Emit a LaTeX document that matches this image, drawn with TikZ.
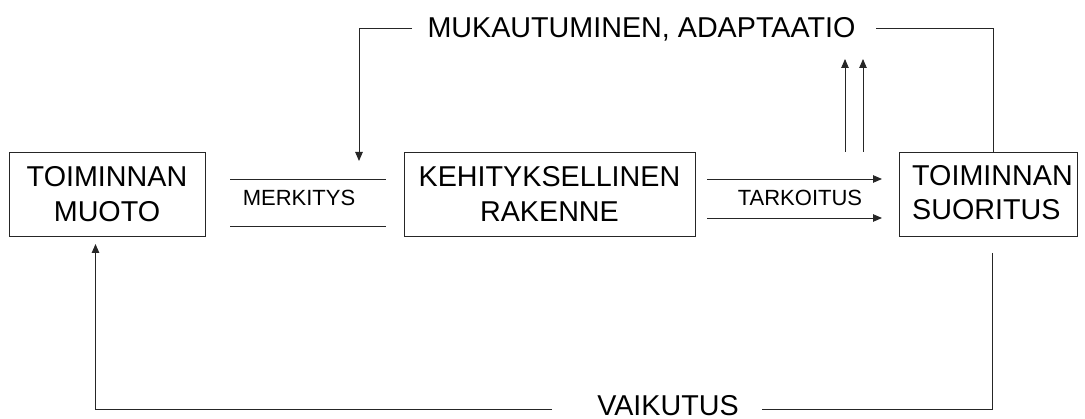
\documentclass[tikz,border=0pt]{standalone}
\usepackage{fontspec}
\setmainfont{Liberation Sans}
\usetikzlibrary{arrows.meta}
\begin{document}
\begin{tikzpicture}[x=1pt,y=-1pt,
  bigfont/.style={font=\fontsize{28.7}{34.3}\selectfont},
  smallfont/.style={font=\fontsize{22}{26}\selectfont},
  box/.style={draw=black!85, line width=0.9pt, minimum height=84pt, inner sep=0pt, align=center, bigfont},
  conn/.style={draw=black!85, line width=0.9pt},
  arr/.style={conn, -{Triangle[length=9pt,width=7.5pt]}}]
\useasboundingbox (0,0) rectangle (1085,419);

% boxes
\node[box, minimum width=196pt] (b1) at (107,194) {TOIMINNAN\\MUOTO};
\node[box, minimum width=291pt] (b2) at (549.5,194) {KEHITYKSELLINEN\\RAKENNE};
\node[box, minimum width=178pt] (b3) at (988,194) {};
\node[bigfont, align=left, anchor=west, inner sep=0pt] (b3t) at (912,192.5) {TOIMINNAN\\SUORITUS};

% merkitys channel
\coordinate (m1a) at (230,179);
\coordinate (m1b) at (386,179);
\coordinate (m2a) at (230,226);
\coordinate (m2b) at (386,226);
\draw[conn] (m1a) -- (m1b);
\draw[conn] (m2a) -- (m2b);
\node[smallfont, anchor=base, inner sep=0pt] (merk) at (299,205.7) {MERKITYS};

% tarkoitus arrows
\coordinate (t1a) at (707,179);
\coordinate (t1b) at (882,179);
\coordinate (t2a) at (707,218);
\coordinate (t2b) at (882,218);
\draw[arr] (t1a) -- (t1b);
\draw[arr] (t2a) -- (t2b);
\node[smallfont, inner sep=0pt] (tark) at (800,198) {TARKOITUS};

% up arrows
\coordinate (u1a) at (845,152);
\coordinate (u1b) at (845,59);
\coordinate (u2a) at (863,152);
\coordinate (u2b) at (863,59);
\draw[arr] (u1a) -- (u1b);
\draw[arr] (u2a) -- (u2b);

% top feedback: mukautuminen
\node[bigfont, anchor=base, inner sep=0pt] (muk) at (641.5,37.3) {MUKAUTUMINEN, ADAPTAATIO};
\coordinate (tr) at (993,28);
\coordinate (trend) at (876,28);
\coordinate (tlstart) at (412,28);
\coordinate (tl) at (359,28);
\coordinate (tltip) at (359,161);
\draw[conn] (b3.north -| tr) -- (tr) -- (trend);
\draw[arr] (tlstart) -- (tl) -- (tltip);

% bottom feedback: vaikutus
\node[bigfont, anchor=base, inner sep=0pt] (vai) at (668,415.5) {VAIKUTUS};
\coordinate (brtop) at (992,253);
\coordinate (br) at (992,409);
\coordinate (brend) at (762,409);
\coordinate (blstart) at (552,409);
\coordinate (bl) at (95.5,409);
\coordinate (bltip) at (95.5,244);
\draw[conn] (brtop) -- (br) -- (brend);
\draw[arr] (blstart) -- (bl) -- (bltip);
\end{tikzpicture}
\end{document}
